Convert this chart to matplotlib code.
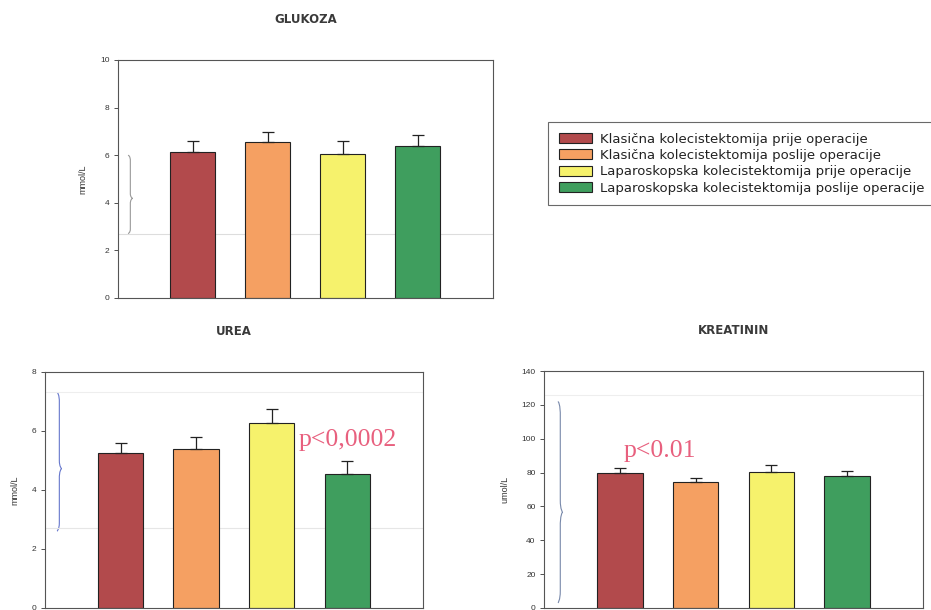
import matplotlib
matplotlib.use('Agg')
from matplotlib import pyplot as plt
from matplotlib.path import Path
from matplotlib.patches import PathPatch
import matplotlib.transforms as mtransforms
import numpy as np

plt.rcParams['font.family'] = ['Liberation Sans', 'DejaVu Sans']

########
# DATA #
########

groups = ['Klasična kolecistektomija prije operacije',
          'Klasična kolecistektomija poslije operacije',
          'Laparoskopska kolecistektomija prije operacije',
          'Laparoskopska kolecistektomija poslije operacije']
colors = ['#B24A4C', '#F5A062', '#F6F26C', '#3F9E5E']

glukoza = [6.15, 6.57, 6.06, 6.40]
glukoza_err = [0.45, 0.40, 0.52, 0.46]

urea = [5.26, 5.39, 6.27, 4.54]
urea_err = [0.34, 0.40, 0.48, 0.45]

kreatinin = [79.6, 74.2, 80.6, 77.8]
kreatinin_err = [3.3, 2.8, 3.6, 3.4]


def brace(ax, y_top, y_bot, x0, color):
    # hand drawn looking curly brace at the left side of an axes
    y_mid = 0.5 * (y_top + y_bot) - 0.05 * (y_top - y_bot)
    w = 0.006
    h = 0.06 * (y_top - y_bot)
    verts = [(x0, y_top),
             (x0 + w, y_top - h * 0.2), (x0 + w, y_top - h), (x0 + w, y_top - h),
             (x0 + w, y_mid + h),
             (x0 + w, y_mid + h * 0.2), (x0 + 2 * w, y_mid), (x0 + 2 * w, y_mid),
             (x0 + w, y_mid - h * 0.2), (x0 + w, y_mid - h), (x0 + w, y_mid - h),
             (x0 + w, y_bot + h),
             (x0 + w, y_bot + h * 0.2), (x0, y_bot), (x0, y_bot)]
    codes = [Path.MOVETO,
             Path.CURVE4, Path.CURVE4, Path.CURVE4,
             Path.LINETO,
             Path.CURVE4, Path.CURVE4, Path.CURVE4,
             Path.CURVE4, Path.CURVE4, Path.CURVE4,
             Path.LINETO,
             Path.CURVE4, Path.CURVE4, Path.CURVE4]
    trans = mtransforms.blended_transform_factory(ax.transAxes, ax.transData)
    ax.add_patch(PathPatch(Path(verts, codes), fc='none', ec=color, lw=0.8,
                           transform=trans, clip_on=False))


def barplot(ax, vals, errs, ymax, ystep, title, ylabel):
    x = np.arange(len(vals))
    bars = ax.bar(x, vals, width=0.6, color=colors, edgecolor='#222222',
                  linewidth=0.8, zorder=2)
    ax.errorbar(x, vals, yerr=[np.zeros(len(vals)), errs], fmt='none',
                ecolor='#222222', elinewidth=0.9, capsize=4, capthick=0.9,
                zorder=3)
    ax.set_xlim(-1, 4)
    ax.set_ylim(0, ymax)
    ax.set_yticks(np.arange(0, ymax + ystep / 2, ystep))
    ax.set_xticks([])
    ax.tick_params(axis='y', labelsize=6, length=3, width=0.6,
                   colors='#333333', pad=3)
    for s in ax.spines.values():
        s.set_color('#555555')
        s.set_linewidth(0.8)
    ax.set_title(title, fontsize=8.5, fontweight='bold', color='#3a3a3a',
                 pad=26.5, family='DejaVu Sans')
    ax.set_ylabel(ylabel, fontsize=6.5, color='#333333', labelpad=9)
    return bars


fig = plt.figure(figsize=(9.31, 6.10), dpi=100)

ax1 = fig.add_axes([0.1267, 0.5115, 0.4028, 0.3902])
bars = barplot(ax1, glukoza, glukoza_err, 10, 2, 'GLUKOZA', 'mmol/L')
brace(ax1, 6.0, 2.7, 0.027, '#999999')
ax1.axhline(2.7, color='#dddddd', lw=0.8, zorder=1)

ax2 = fig.add_axes([0.0483, 0.0033, 0.406, 0.3874])
barplot(ax2, urea, urea_err, 8, 2, 'UREA', 'mmol/L')
brace(ax2, 7.3, 2.6, 0.032, '#6677CC')
ax2.axhline(7.3, color='#eeeeee', lw=0.8, zorder=1)
ax2.axhline(2.7, color='#e6e6e6', lw=0.8, zorder=1)
ax2.text(2.35, 5.7, 'p<0,0002', family='Liberation Serif', fontsize=18.5,
         color='#E8607E', va='center', ha='left')

ax3 = fig.add_axes([0.5843, 0.0033, 0.4071, 0.3885])
barplot(ax3, kreatinin, kreatinin_err, 140, 20, 'KREATININ', 'umol/L')
brace(ax3, 122, 3, 0.037, '#7788AA')
ax3.axhline(126, color='#eeeeee', lw=0.8, zorder=1)
ax3.text(0.05, 92.5, 'p<0.01', family='Liberation Serif', fontsize=18.5,
         color='#E8607E', va='center', ha='left')

leg = fig.legend(bars, groups, loc='upper left',
                 bbox_to_anchor=(548 / 931, 1 - 122 / 610),
                 prop={'family': 'DejaVu Sans', 'size': 9.5},
                 frameon=True, fancybox=False,
                 handlelength=2.55, handleheight=0.8, handletextpad=0.6,
                 labelspacing=0.26, borderpad=0.8, borderaxespad=0)
leg.get_frame().set_edgecolor('#444444')
leg.get_frame().set_linewidth(0.8)
for t in leg.get_texts():
    t.set_color('#222222')

plt.savefig('out.png', dpi=100)
plt.close()
